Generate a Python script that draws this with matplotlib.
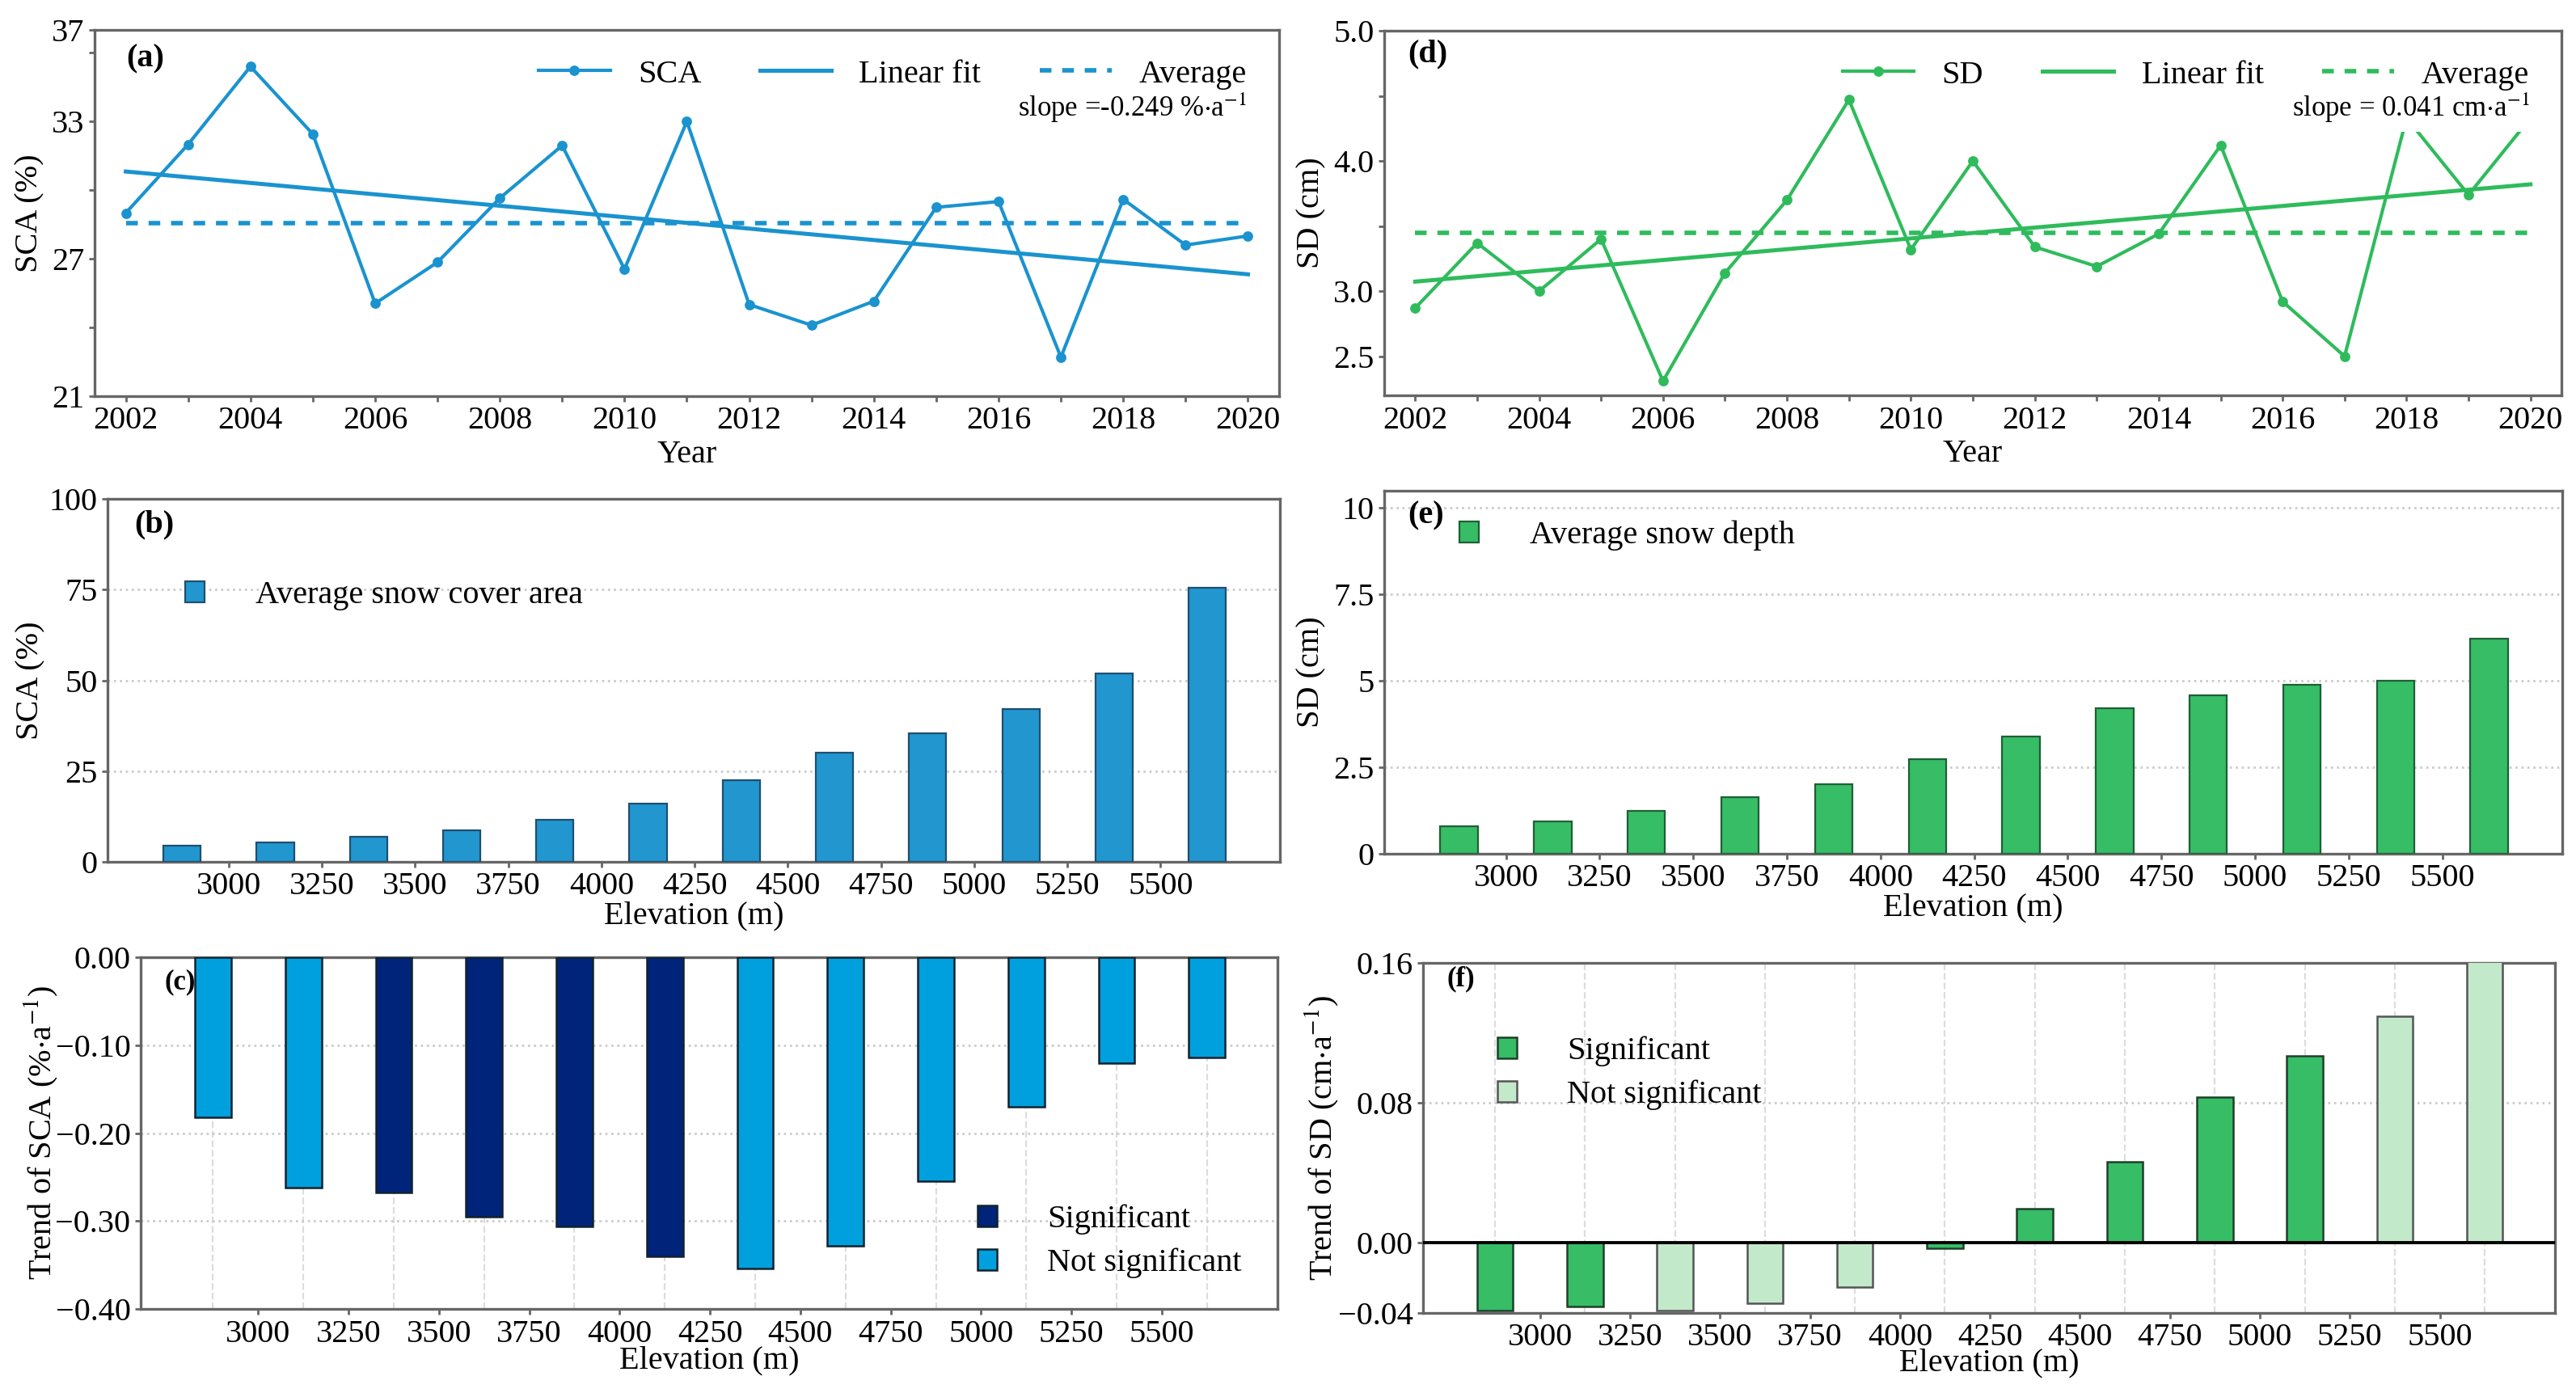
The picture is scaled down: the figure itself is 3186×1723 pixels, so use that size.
import numpy as np
import matplotlib
matplotlib.use("Agg")
import matplotlib.pyplot as plt
from matplotlib.lines import Line2D
from matplotlib.patches import Patch

# ---------------- data ----------------
years = list(range(2002, 2021))
sca = [29.0, 32.0, 35.4, 32.45, 25.05, 26.85, 29.65, 31.95, 26.55, 33.0,
       25.0, 24.1, 25.15, 29.25, 29.5, 22.7, 29.6, 27.6, 28.0]
sd = [2.87, 3.37, 3.0, 3.40, 2.31, 3.14, 3.70, 4.47, 3.32, 4.0,
      3.34, 3.19, 3.44, 4.12, 2.92, 2.50, 4.33, 3.74, 4.33]
sca_slope_text = r"slope =-0.249 %$\cdot$a$^{-1}$"
sd_slope_text = r"slope = 0.041 cm$\cdot$a$^{-1}$"

elev_labels = ["3000", "3250", "3500", "3750", "4000", "4250",
               "4500", "4750", "5000", "5250", "5500"]
sca_elev = [4.5, 5.4, 6.8, 8.6, 11.6, 16.1, 22.5, 30.0, 35.4, 42.2, 52.0, 75.6]
sd_elev = [0.79, 0.94, 1.25, 1.64, 2.02, 2.74, 3.38, 4.20, 4.59, 4.89, 5.01, 6.22]
sca_trend = [-0.182, -0.262, -0.268, -0.295, -0.306, -0.340,
             -0.354, -0.328, -0.255, -0.170, -0.120, -0.114]
sca_sig = [False, False, True, True, True, True,
           False, False, False, False, False, False]
sd_trend = [-0.0388, -0.0363, -0.0385, -0.0346, -0.0253, -0.003,
            0.0194, 0.0464, 0.0835, 0.1067, 0.1295, 0.165]
sd_sig = [True, True, False, False, False, True,
          True, True, True, True, False, False]

# ---------------- style ----------------
plt.rcParams["font.family"] = ["Liberation Serif", "DejaVu Serif"]
plt.rcParams["mathtext.fontset"] = "stix"
plt.rcParams["axes.unicode_minus"] = True
FS = 14.5
blue = "#1a93cf"
blue_bar = "#2196cf"
navy = "#00247a"
lblue = "#00a0de"
green = "#2fbb5c"
green_bar = "#36bd66"
lgreen = "#c3e9cb"
spine_c = "#666666"

W, H = 3186, 1723
fig = plt.figure(figsize=(W / 200, H / 200), dpi=200)


def add_ax(l, r, t, b):
    return fig.add_axes([l / W, 1 - b / H, (r - l) / W, (b - t) / H])


def style(ax):
    for s in ax.spines.values():
        s.set_color(spine_c)
        s.set_linewidth(1.2)
    ax.tick_params(labelsize=FS, color=spine_c, width=1.0, length=2.5, pad=2.0)


axA = add_ax(117, 1582, 37, 490)
axD = add_ax(1712, 3168, 38, 489)
axB = add_ax(133, 1583, 617, 1066)
axE = add_ax(1712, 3169, 607, 1056)
axC = add_ax(174, 1580, 1184, 1619)
axF = add_ax(1760, 3160, 1191, 1624)

x = np.array(years)


def time_panel(ax, vals, color, name, ylabel, ylim, yt, ytl, slope_txt, tag,
               tagpos, labx):
    style(ax)
    v = np.array(vals)
    coef = np.polyfit(x, v, 1)
    ax.plot(x, v, color=color, lw=1.5, marker="o", ms=3.6, zorder=3)
    ax.plot(x, np.polyval(coef, x), color=color, lw=1.8, zorder=3)
    ax.plot(x, np.full_like(v, v.mean()), color=color, lw=2.0,
            dashes=(2.6, 2.4), zorder=3)
    ax.set_xlim(2001.5, 2020.5)
    ax.set_ylim(*ylim)
    ax.set_xticks(list(range(2002, 2021, 2)))
    ax.set_xticks(list(range(2003, 2020, 2)), minor=True)
    ax.tick_params(which="minor", color=spine_c, length=2.5, width=1.0)
    ax.set_yticks(yt, labels=ytl)
    ax.set_xlabel("Year", fontsize=FS)
    ax.xaxis.set_label_coords(0.5, -0.12)
    ax.set_ylabel(ylabel, fontsize=FS)
    ax.yaxis.set_label_coords(labx, 0.5)
    handles = [Line2D([], [], color=color, lw=1.5, marker="o", ms=3.6),
               Line2D([], [], color=color, lw=1.8),
               Line2D([], [], color=color, lw=2.0, dashes=(2.6, 2.4))]
    leg = ax.legend(handles, [name, "Linear fit", "Average"], ncol=3,
                    loc="upper right", bbox_to_anchor=(0.992, 0.982),
                    borderaxespad=0.3, fontsize=FS, handlelength=2.2,
                    handletextpad=0.85, columnspacing=1.8, frameon=False)
    leg.set_zorder(8)
    ax.text(0.973, 0.788, slope_txt, transform=ax.transAxes, ha="right",
            va="center", fontsize=12.5, zorder=7,
            bbox=dict(boxstyle="square,pad=0.25", fc="white", ec="none"))
    ax.text(tagpos[0], tagpos[1], tag, transform=ax.transAxes, ha="left",
            va="center", fontsize=FS, fontweight="bold")


time_panel(axA, sca, blue, "SCA", "SCA (%)", (21, 37),
           [21, 24, 27, 30, 33, 36, 37], ["21", "", "27", "", "33", "", "37"],
           sca_slope_text, "(a)", (0.027, 0.92), -0.042)
time_panel(axD, sd, green, "SD", "SD (cm)", (2.2, 5.0),
           [2.5, 3.0, 3.5, 4.0, 4.5, 5.0], ["2.5", "3.0", "", "4.0", "", "5.0"],
           sd_slope_text, "(d)", (0.02, 0.936), -0.049)

pos = np.arange(len(sca_elev))
bpos = np.arange(len(elev_labels)) + 0.5


def elev_axis(ax, labx, xlab_y):
    ax.set_xlim(-0.8, 11.78)
    ax.set_xticks(bpos, labels=elev_labels)
    ax.set_xlabel("Elevation (m)", fontsize=FS)
    ax.xaxis.set_label_coords(0.5, xlab_y)
    ax.yaxis.set_label_coords(labx, 0.5)
    ax.set_axisbelow(True)


# ---- (b)
style(axB)
axB.bar(pos, sca_elev, width=0.4, color=blue_bar, edgecolor="#1f4f6f",
        lw=0.8, zorder=3)
axB.set_ylim(0, 100)
axB.set_yticks([0, 25, 50, 75, 100])
axB.grid(axis="y", ls=":", color="#cccccc", lw=1.0)
axB.set_ylabel("SCA (%)", fontsize=FS)
elev_axis(axB, -0.053, -0.108)
axB.legend([Patch(fc=blue_bar, ec="#1f4f6f", lw=0.8)], ["Average snow cover area"],
           loc="center left", bbox_to_anchor=(0.055, 0.733), borderaxespad=0,
           fontsize=FS, handlelength=0.6, handleheight=0.6,
           handletextpad=1.56, frameon=False)
axB.text(0.023, 0.929, "(b)", transform=axB.transAxes, ha="left", va="center",
         fontsize=FS, fontweight="bold")

# ---- (e)
style(axE)
axE.bar(pos, sd_elev, width=0.4, color=green_bar, edgecolor="#1f5f35",
        lw=0.8, zorder=3)
axE.set_ylim(0, 10.5)
axE.set_yticks([0, 2.5, 5, 7.5, 10], labels=["0", "2.5", "5", "7.5", "10"])
axE.grid(axis="y", ls=":", color="#cccccc", lw=1.0)
axE.set_ylabel("SD (cm)", fontsize=FS)
elev_axis(axE, -0.049, -0.108)
axE.legend([Patch(fc=green_bar, ec="#1f5f35", lw=0.8)], ["Average snow depth"],
           loc="center left", bbox_to_anchor=(0.053, 0.876), borderaxespad=0,
           fontsize=FS, handlelength=0.6, handleheight=0.6,
           handletextpad=1.56, frameon=False)
axE.text(0.02, 0.932, "(e)", transform=axE.transAxes, ha="left", va="center",
         fontsize=FS, fontweight="bold")

# ---- (c)
style(axC)
ccols = [navy if s else lblue for s in sca_sig]
axC.text(0.021, 0.929, "(c)", transform=axC.transAxes, ha="left", va="center",
         fontsize=12.5, fontweight="bold", zorder=1)
axC.bar(pos, sca_trend, width=0.4, color=ccols, edgecolor="#10222e",
        lw=0.9, zorder=3)
axC.set_ylim(-0.40, 0.0)
axC.set_yticks([-0.4, -0.3, -0.2, -0.1, 0.0],
               labels=["\u22120.40", "\u22120.30", "\u22120.20", "\u22120.10", "0.00"])
axC.set_xticks(pos, minor=True)
axC.tick_params(axis="x", which="minor", length=0)
axC.grid(axis="x", which="minor", ls="--", color="#dddddd", lw=0.8)
axC.grid(axis="y", which="major", ls=":", color="#cccccc", lw=1.0)
axC.set_ylabel(r"Trend of SCA (%$\cdot$a$^{-1}$)", fontsize=FS)
elev_axis(axC, -0.071, -0.105)
axC.legend([Patch(fc=navy, ec="#10222e", lw=0.9), Patch(fc=lblue, ec="#10222e", lw=0.9)],
           ["Significant", "Not significant"], loc="center right",
           bbox_to_anchor=(0.980, 0.192), borderaxespad=0, fontsize=FS,
           handlelength=0.6, handleheight=0.6, handletextpad=1.55,
           labelspacing=0.4, frameon=False)

# ---- (f)
style(axF)
fcols = [green_bar if s else lgreen for s in sd_sig]
fedges = ["#1f3f2a" if s else "#555555" for s in sd_sig]
axF.text(0.021, 0.954, "(f)", transform=axF.transAxes, ha="left", va="center",
         fontsize=12.5, fontweight="bold", zorder=1)
axF.bar(pos, sd_trend, width=0.4, color=fcols, edgecolor=fedges,
        lw=0.9, zorder=3)
axF.axhline(0, color="black", lw=1.4, zorder=4)
axF.set_ylim(-0.04, 0.16)
axF.set_yticks([-0.04, 0.0, 0.08, 0.16],
               labels=["\u22120.04", "0.00", "0.08", "0.16"])
axF.set_xticks(pos, minor=True)
axF.tick_params(axis="x", which="minor", length=0)
axF.grid(axis="x", which="minor", ls="--", color="#dddddd", lw=0.8)
axF.grid(axis="y", which="major", ls=":", color="#cccccc", lw=1.0)
axF.set_ylabel(r"Trend of SD (cm$\cdot$a$^{-1}$)", fontsize=FS)
elev_axis(axF, -0.073, -0.1)
axF.legend([Patch(fc=green_bar, ec="#1f3f2a", lw=0.9), Patch(fc=lgreen, ec="#555555", lw=0.9)],
           ["Significant", "Not significant"], loc="center left",
           bbox_to_anchor=(0.054, 0.685), borderaxespad=0, fontsize=FS,
           handlelength=0.6, handleheight=0.6, handletextpad=1.55,
           labelspacing=0.4, frameon=False)

fig.savefig("out.png", dpi=200, facecolor="white")
